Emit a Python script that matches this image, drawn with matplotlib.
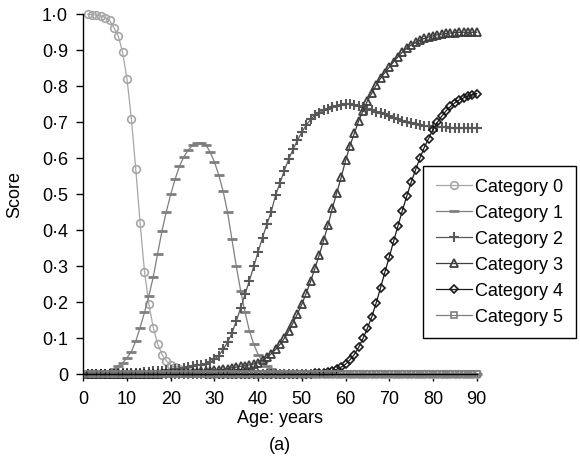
import numpy as np
import matplotlib
matplotlib.use("Agg")
import matplotlib.pyplot as plt

# Data ------------------------------------------------------------------------
ages = list(range(1, 91))

cat0 = [1.0, 0.999, 0.998, 0.996, 0.991, 0.983, 0.963, 0.94, 0.894, 0.82,
        0.71, 0.57, 0.42, 0.285, 0.195, 0.13, 0.085, 0.055, 0.037, 0.026,
        0.019, 0.014, 0.010, 0.007, 0.005, 0.004, 0.003, 0.002, 0.001, 0.001] + [0.0] * 60

cat1 = [0.0, 0.001, 0.002, 0.004, 0.006, 0.01, 0.015, 0.022, 0.032, 0.046,
        0.063, 0.092, 0.13, 0.172, 0.218, 0.27, 0.335, 0.398, 0.452, 0.5,
        0.542, 0.578, 0.604, 0.623, 0.636, 0.642, 0.643, 0.638, 0.618, 0.59,
        0.553, 0.508, 0.45, 0.375, 0.3, 0.232, 0.172, 0.121, 0.083, 0.055,
        0.036, 0.023, 0.014, 0.009, 0.005, 0.003, 0.002, 0.001, 0.001, 0.0] + [0.0] * 40

cat2 = [0.0, 0.0, 0.001, 0.001, 0.001, 0.002, 0.002, 0.003, 0.003, 0.004,
        0.004, 0.005, 0.005, 0.006, 0.007, 0.008, 0.009, 0.01, 0.011, 0.012,
        0.014, 0.016, 0.018, 0.02, 0.022, 0.025, 0.027, 0.03, 0.033, 0.042,
        0.052, 0.069, 0.089, 0.114, 0.148, 0.184, 0.222, 0.26, 0.3, 0.34,
        0.38, 0.417, 0.452, 0.498, 0.532, 0.566, 0.598, 0.625, 0.65, 0.673,
        0.692, 0.708, 0.72, 0.727, 0.733, 0.738, 0.743, 0.746, 0.749, 0.751,
        0.75, 0.748, 0.746, 0.742, 0.738, 0.734, 0.73, 0.726, 0.722, 0.717,
        0.713, 0.709, 0.705, 0.701, 0.698, 0.695, 0.693, 0.691, 0.689, 0.688,
        0.687, 0.686, 0.686, 0.685, 0.685, 0.685, 0.685, 0.685, 0.685, 0.685]

cat3 = [0.0, 0.0, 0.0, 0.0, 0.0, 0.0, 0.0, 0.001, 0.001, 0.001,
        0.001, 0.001, 0.001, 0.002, 0.002, 0.002, 0.002, 0.003, 0.003, 0.003,
        0.004, 0.004, 0.005, 0.005, 0.006, 0.007, 0.008, 0.009, 0.01, 0.011,
        0.012, 0.014, 0.016, 0.018, 0.02, 0.022, 0.024, 0.026, 0.029, 0.032,
        0.039, 0.047, 0.057, 0.069, 0.083, 0.1, 0.12, 0.143, 0.168, 0.195,
        0.225, 0.258, 0.295, 0.332, 0.373, 0.415, 0.462, 0.505, 0.547, 0.594,
        0.635, 0.669, 0.704, 0.732, 0.759, 0.781, 0.803, 0.822, 0.838, 0.853,
        0.868, 0.882, 0.895, 0.906, 0.915, 0.922, 0.928, 0.933, 0.937, 0.94,
        0.943, 0.945, 0.947, 0.948, 0.949, 0.95, 0.95, 0.95, 0.95, 0.95]

cat4 = [0.0] * 50 + [
        0.001, 0.002, 0.003, 0.004, 0.005, 0.007, 0.01, 0.014, 0.02, 0.028,
        0.04, 0.055, 0.075, 0.1, 0.128, 0.16, 0.198, 0.24, 0.284, 0.326,
        0.37, 0.413, 0.455, 0.495, 0.533, 0.568, 0.6, 0.63, 0.655, 0.68,
        0.7, 0.717, 0.732, 0.744, 0.754, 0.762, 0.768, 0.773, 0.777, 0.78]

cat5 = [0.0] * 90

labels = ["Category 0", "Category 1", "Category 2", "Category 3", "Category 4", "Category 5"]
xticks = [0, 10, 20, 30, 40, 50, 60, 70, 80, 90]
yticks = [0.0, 0.1, 0.2, 0.3, 0.4, 0.5, 0.6, 0.7, 0.8, 0.9, 1.0]
yticklabels = ["0", "0·1", "0·2", "0·3", "0·4", "0·5", "0·6", "0·7", "0·8", "0·9", "1·0"]

# Style -----------------------------------------------------------------------
plt.rcParams['font.family'] = ['Liberation Sans', 'DejaVu Sans']
fs = 13

# colour, marker, marker size, marker edge width
styles = [("#a6a6a6", "o", 5.5, 1.2),
          ("#7f7f7f", "_", 6.5, 2.0),
          ("#595959", "+", 6.5, 1.5),
          ("#3f3f3f", "^", 5.5, 1.3),
          ("#1a1a1a", "D", 4.2, 1.2),
          ("#7f7f7f", "s", 4.8, 1.2)]

# Plot ------------------------------------------------------------------------
fig = plt.figure(figsize=(5.8, 4.59), dpi=100)
ax = fig.add_axes([83.3/580, 1 - 374.3/459, 393.4/580, 360/459])

for series, name, (c, m, ms, mew) in zip([cat0, cat1, cat2, cat3, cat4, cat5], labels, styles):
    mfc = c if m in ("_", "+") else "none"
    ax.plot(ages, series, color=c, lw=0.9, marker=m, ms=ms, mew=mew,
            mfc=mfc, mec=c, label=name, clip_on=False)

ax.set_xlim(0, 90)
ax.set_ylim(0, 1.0)
ax.set_xticks(xticks)
ax.set_yticks(yticks)
ax.set_yticklabels(yticklabels)
ax.tick_params(direction="out", length=5, width=1, labelsize=fs, colors="black")
ax.tick_params(axis="x", pad=7)
ax.tick_params(axis="y", pad=6)
for side in ("top", "right"):
    ax.spines[side].set_visible(False)
for side in ("left", "bottom"):
    ax.spines[side].set_linewidth(1)

ax.set_xlabel("Age: years", fontsize=fs)
ax.xaxis.set_label_coords(0.5, -0.1)
ax.set_ylabel("Score", fontsize=fs)
ax.yaxis.set_label_coords(-0.153, 0.5)

fig.text(280/580, 1 - 445/459, "(a)", fontsize=fs, ha="center", va="center")

# legend runs to the right edge of the figure, as in the original
leg = ax.legend(loc="upper left", bbox_to_anchor=(423/580, 1 - 166/459),
                bbox_transform=fig.transFigure, fontsize=fs, numpoints=1,
                frameon=True, fancybox=False, framealpha=1, edgecolor="black",
                borderaxespad=0, handlelength=2.0, handletextpad=0.2,
                labelspacing=0.5, borderpad=0.7)
leg.get_frame().set_linewidth(1)

fig.savefig("out.png", dpi=100)
